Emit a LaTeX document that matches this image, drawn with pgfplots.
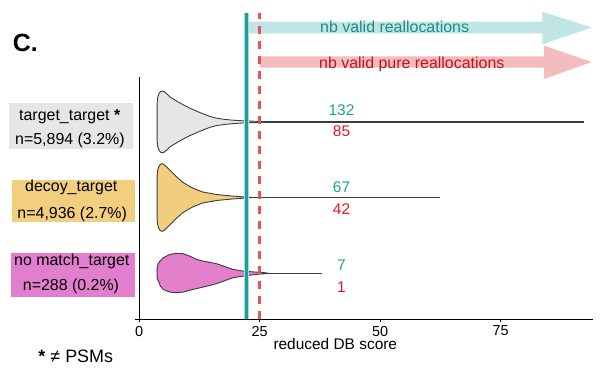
\documentclass[border=0pt]{standalone}
\usepackage{pgfplots}
\pgfplotsset{compat=1.18}
\usepackage{fontspec}
\setmainfont{Liberation Sans}
\definecolor{vgrey}{HTML}{E6E6E6}
\definecolor{vgold}{HTML}{F2CD7E}
\definecolor{vpink}{HTML}{E47FCB}
\definecolor{boxgold}{HTML}{F2CE7F}
\definecolor{boxpink}{HTML}{E27ECE}
\definecolor{tealline}{HTML}{14A09C}
\definecolor{tealhalo}{HTML}{A6DCDA}
\definecolor{redline}{HTML}{E8525C}
\definecolor{tealarrow}{HTML}{BFE6E4}
\definecolor{redarrow}{HTML}{F3BDBD}
\definecolor{tealtext}{HTML}{1D8C89}
\definecolor{redtext}{HTML}{C0151C}
\definecolor{numgreen}{HTML}{19A98A}
\definecolor{numred}{HTML}{F2141C}
\definecolor{outl}{HTML}{3C3C3C}
\begin{document}
\begin{tikzpicture}
\begin{axis}[
  at={(0,0)}, anchor=south west, scale only axis,
  width=458.1bp, height=309bp,
  xmin=-0.95, xmax=94.1, ymin=0, ymax=309,
  axis x line=bottom, axis y line=none,
  x axis line style={-, line width=0.9bp},
  xtick={0,25,50,75}, ytick=\empty,
  tick align=outside, major tick length=2.5bp,
  xtick style={black, line width=0.8bp},
  clip=false,
  ticklabel style={font=\fontsize{14.5}{16}\selectfont},
  xticklabel style={yshift=-1bp},
  /pgf/number format/assume math mode=true,
]
% arrows
\addplot[fill=tealarrow, draw=none] coordinates {(22.3,297.3)(83.7,297.3)(83.7,307.3)(93.9,291.5)(83.7,274.7)(83.7,285.7)(22.3,285.7)} -- cycle;
\addplot[fill=redarrow, draw=none] coordinates {(25,262.7)(84,262.7)(84,273.3)(93.9,257)(84,240)(84,251.3)(25,251.3)} -- cycle;
% y axis line
\addplot[black, line width=0.9bp] coordinates {(0,0)(0,242)};
% range lines
\addplot[outl, line width=1.8bp] coordinates {(20,197.1)(92.4,197.1)};
\addplot[outl, line width=1.8bp] coordinates {(20,121.5)(62.4,121.5)};
\addplot[outl, line width=1.5bp] coordinates {(20,45.6)(37.9,45.6)};
% violins
\addplot[fill=vgrey, draw=outl, line width=0.9bp] coordinates {
(3.74,197.1)(3.74,215.1)(3.85,221.1)(4.1,225.1)(4.45,227.4)(4.8,227.9)(5.2,227.4)(5.8,224.9)(6.37,222.1)(7.3,219.4)(8.2,216.8)(9.13,214.3)(10.5,210.9)(11.9,207.9)(13.3,205.1)(14.67,202.6)(16.06,200.8)(17.8,199.6)(19.5,198.8)(21.9,198.1)(25,197.6)(26,197.1)
(25,196.6)(21.9,196.1)(19.5,195.4)(17.8,194.6)(16.06,193.4)(14.67,191.6)(13.3,189.1)(11.9,186.3)(10.5,183.3)(9.13,179.9)(8.2,177.4)(7.3,174.8)(6.37,172.1)(5.8,169.3)(5.2,166.8)(4.8,166.3)(4.45,166.8)(4.1,169.1)(3.85,173.1)(3.74,179.1)} -- cycle;
\addplot[fill=vgold, draw=outl, line width=0.9bp] coordinates {
(3.74,121.5)(3.74,143.5)(3.85,148.5)(4.1,152.5)(4.45,154.8)(4.85,155.3)(5.3,154)(6.37,149)(7.7,142.5)(9.13,136.5)(11.2,130.7)(13.2,127)(16.06,124.5)(19.5,122.9)(22.2,122)(23.5,121.5)
(22.2,121)(19.5,120.1)(16.06,118.5)(13.2,116)(11.2,112.3)(9.13,106.5)(7.7,100.5)(6.37,94)(5.3,89)(4.85,87.7)(4.45,88.2)(4.1,90.5)(3.85,94.5)(3.74,99.5)} -- cycle;
\addplot[fill=vpink, draw=outl, line width=0.9bp] coordinates {
(3.74,45.6)(3.74,50.6)(3.94,55.3)(4.4,58.3)(5.0,61.3)(6.37,64.6)(7.75,65.6)(9.13,65.3)(10.5,62.9)(11.9,59.6)(13.3,57.9)(16.06,55.3)(18.1,51.9)(19.5,49.6)(21.6,47.9)(24.3,46.9)(26.1,46.3)(27,45.6)
(26.1,45.3)(24.3,44.6)(21.6,42.9)(19.5,41.3)(18.1,38.9)(16.06,35.3)(13.3,31.9)(11.2,29.6)(9.13,26.9)(7.75,26.3)(6.37,26.9)(5.0,29.6)(4.4,33.1)(4.15,36.3)(3.74,40.6)} -- cycle;
% thresholds
\addplot[tealhalo, line width=5.3bp] coordinates {(22.3,0)(22.3,305.7)};
\addplot[tealline, line width=2.5bp] coordinates {(22.3,0)(22.3,305.7)};
\addplot[redline, line width=2.3bp, dash pattern=on 8bp off 7bp] coordinates {(25,0)(25,305.7)};
\end{axis}
\begin{scope}[x=1bp, y=-1bp, shift={(-134.5bp,319bp)}]
\tikzset{lab/.style={inner sep=0pt, anchor=base west, font=\fontsize{16}{19}\selectfont}}
\tikzset{num/.style={inner sep=0pt, anchor=base, font=\fontsize{15.5}{18}\selectfont}}
\node[inner sep=0pt, anchor=base west, font=\fontsize{25}{30}\selectfont\bfseries] at (12.7,51.7) {C.};
\fill[vgrey] (9,103.3) rectangle (132.7,149);
\fill[boxgold] (12,180) rectangle (135,221.7);
\fill[boxpink] (11,253.3) rectangle (135,296.7);
\node[lab] at (19,120) {target\_target \textbf{*}};
\node[lab] at (15,144.3) {n=5,894 (3.2\%)};
\node[lab] at (25,191.7) {decoy\_target};
\node[lab] at (17.3,218.3) {n=4,936 (2.7\%)};
\node[lab] at (14,265) {no match\_target};
\node[lab] at (22.7,290) {n=288 (0.2\%)};
\node[inner sep=0pt, anchor=base west, font=\fontsize{18}{21}\selectfont] at (38.3,362.3) {\textbf{*} ≠ PSMs};
\node[lab, text=tealtext] at (320,32) {nb valid reallocations};
\node[lab, text=redtext] at (319,68) {nb valid pure reallocations};
\node[num, text=numgreen] at (341.5,115.7) {132};
\node[num, text=numred] at (341.5,136.7) {85};
\node[num, text=numgreen] at (341.5,192.7) {67};
\node[num, text=numred] at (341.5,214) {42};
\node[num, text=numgreen] at (341.5,270.7) {7};
\node[num, text=numred] at (341.5,292) {1};
\node[inner sep=0pt, anchor=base west, font=\fontsize{15.5}{18}\selectfont] at (273.3,349.8) {reduced DB score};
\pgfresetboundingbox
\path (0,0) rectangle (600,376);
\end{scope}
\end{tikzpicture}
\end{document}
